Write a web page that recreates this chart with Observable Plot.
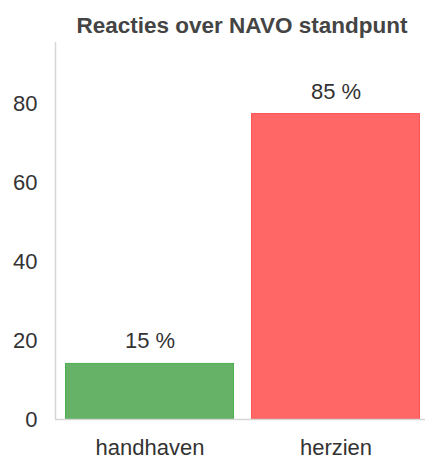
<!DOCTYPE html>
<html>
<head>
<meta charset="utf-8">
<script src="https://cdn.jsdelivr.net/npm/d3@7"></script>
<script src="https://cdn.jsdelivr.net/npm/@observablehq/plot@0.6"></script>
<style>
  body { margin: 0; background: #fff; }
  #wrap { position: relative; width: 425px; height: 459px; }
  #title { position: absolute; top: 2px; left: 0; width: 425px; box-sizing: border-box; padding-left: 59px;
           text-align: center; font-family: "Liberation Sans", Arial, sans-serif; font-weight: bold;
           font-size: 22.5px; color: #444; height: 48px; line-height: 48px; }
</style>
</head>
<body>
<div id="wrap"><div id="title">Reacties over NAVO standpunt</div></div>
<script>
const title = "Reacties over NAVO standpunt";
const categories = ["handhaven", "herzien"];
const values = [14.2, 77.5];
const valueLabels = ["15 %", "85 %"];
const yTicks = [0, 20, 40, 60, 80];
const fills = ["#66b266", "#ff6666"];
const strokes = ["#4caf50", "#ff5555"];

const data = categories.map((c, i) => ({cat: c, value: values[i], label: valueLabels[i], fill: fills[i], stroke: strokes[i]}));

document.getElementById("title").textContent = title;

const W = 425, ML = 55, MR = 0;
const chart = Plot.plot({
  width: W,
  height: 459,
  marginTop: 42,
  marginBottom: 40,
  marginLeft: ML,
  marginRight: MR,
  style: {fontFamily: "'Liberation Sans', Arial, sans-serif", fontSize: "22px", color: "#333", background: "#fff", overflow: "visible"},
  x: {domain: categories, paddingInner: 0.0912, paddingOuter: 0.0375, align: 0.643, label: null, tickSize: 0, tickPadding: 20},
  y: {domain: [0, 95.5], ticks: yTicks, label: null, tickSize: 0, tickPadding: 18},
  marks: [
    Plot.barY(data, {x: "cat", y: "value", fill: d => d.fill, stroke: d => d.stroke, strokeWidth: 1, insetTop: 0.5, insetLeft: 0.5, insetRight: 0.5}),
    Plot.ruleX([0], {x: null, dx: -(W - ML - MR) / 2, stroke: "#d6d6d6", strokeWidth: 1.5}),
    Plot.ruleY([0], {stroke: "#d6d6d6", strokeWidth: 1.5}),
    Plot.text(data, {x: "cat", y: "value", text: "label", dy: -15, lineAnchor: "bottom", fill: "#333", fontSize: 22})
  ]
});
document.getElementById("wrap").prepend(chart);
</script>
</body>
</html>
